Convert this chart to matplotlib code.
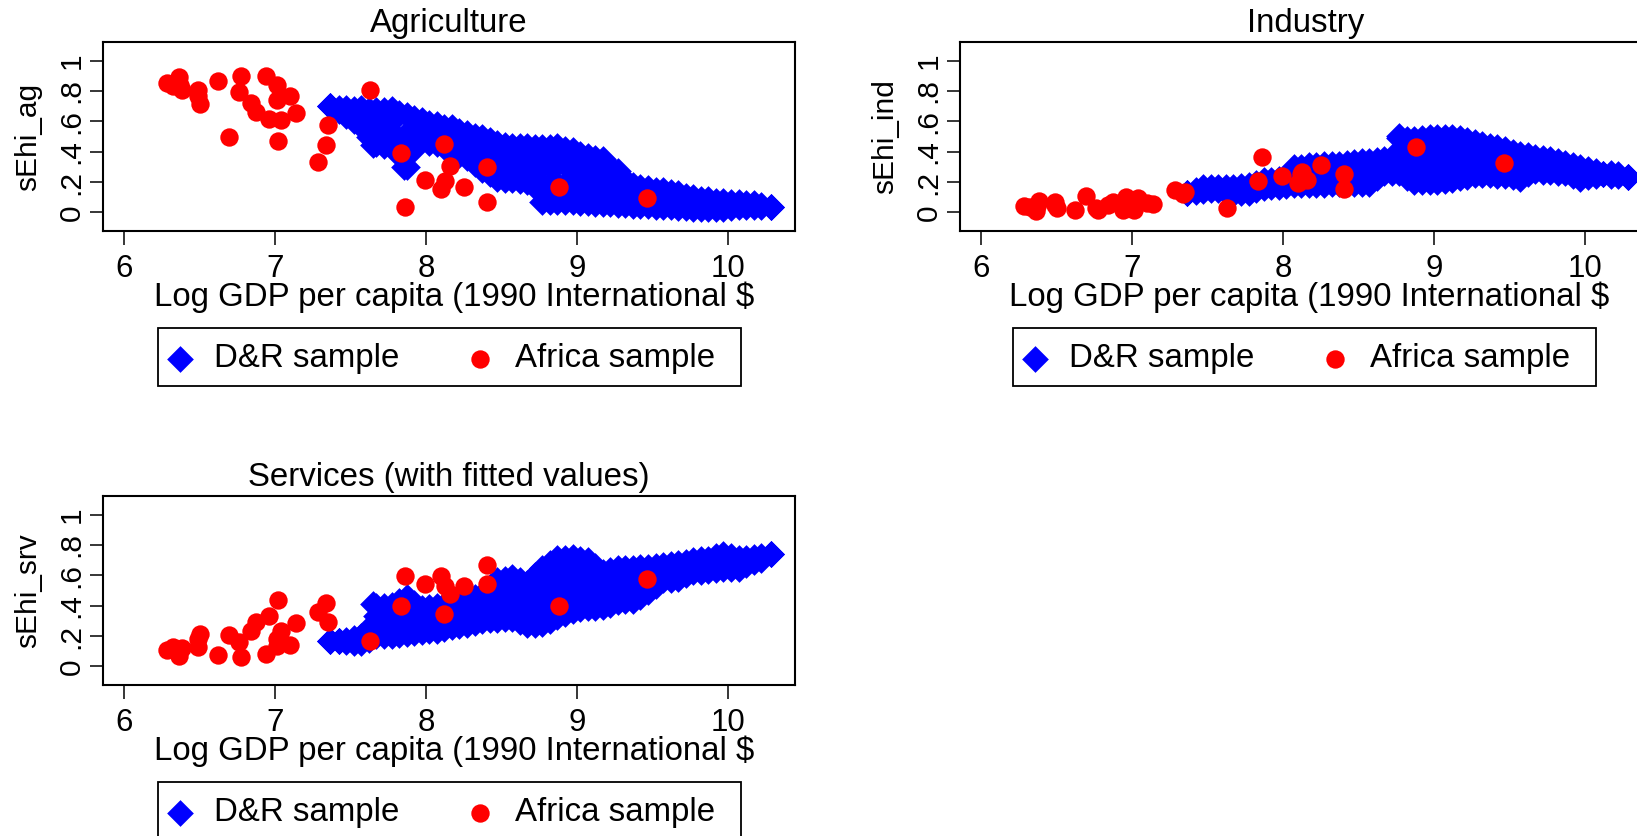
import matplotlib
matplotlib.use("Agg")
import matplotlib.pyplot as plt
from matplotlib.patches import Rectangle

plt.rcParams['font.family'] = ['Liberation Sans', 'DejaVu Sans']

# Africa sample
afr_x = [6.284,6.319,6.36,6.37,6.38,6.49,6.49,6.50,6.62,6.69,6.76,6.77,6.84,6.87,6.94,6.96,7.01,7.01,7.016,7.04,7.10,7.137,7.28,7.335,7.35,7.625,7.83,7.86,7.99,8.10,8.115,8.125,8.155,8.25,8.405,8.405,8.877,9.466]
afr_ag = [.852,.835,.892,.841,.804,.804,.764,.716,.863,.496,.791,.901,.72,.659,.901,.615,.841,.742,.469,.61,.769,.654,.335,.445,.573,.808,.388,.037,.214,.152,.452,.207,.306,.165,.30,.07,.165,.097]
afr_ind = [.042,.035,.009,.04,.073,.068,.05,.03,.018,.108,.03,.018,.046,.068,.013,.10,.08,.013,.06,.097,.062,.053,.146,.124,.135,.031,.205,.362,.241,.194,.256,.267,.216,.313,.256,.152,.433,.327]
afr_srv = [.108,.13,.068,.108,.123,.13,.178,.21,.073,.207,.163,.064,.233,.292,.079,.332,.134,.182,.435,.233,.138,.286,.36,.42,.292,.167,.398,.596,.541,.596,.347,.53,.475,.527,.668,.545,.398,.576]

# D&R sample: the points overlap into a solid band, rows estimated from the band
dr_xa = [7.365,7.47,7.57,7.67,7.77,7.87,7.97,8.07,8.17,8.27,8.37,8.47,8.57,8.67,8.77,8.87,8.97,9.07,9.17,9.27,9.37,9.47,9.57,9.67,9.77,9.87,9.97,10.07,10.17,10.285]
dr_xb = [7.42,7.52,7.62,7.72,7.82,7.92,8.02,8.12,8.22,8.32,8.42,8.52,8.62,8.72,8.82,8.92,9.02,9.12,9.22,9.32,9.42,9.52,9.62,9.72,9.82,9.92,10.02,10.12,10.22]

ag_r1 = [.70,.685,.685,.675,.68,.64,.61,.58,.56,.52,.50,.46,.44,.44,.43,.44,.41,.37,.35,.27,.18,.16,.145,.13,.10,.085,.075,.07,.06,.033]
ag_r2 = [.69,.68,.675,.675,.655,.62,.59,.565,.535,.505,.475,.445,.435,.43,.43,.42,.385,.355,.30,.215,.165,.15,.135,.11,.09,.078,.07,.062,.05]
ag_r3 = [.70,.67,.645,.60,.60,.52,.567,.537,.508,.467,.427,.373,.363,.36,.31,.317,.295,.267,.252,.197,.135,.12,.108,.097,.075,.063,.057,.058,.052,.033]
ag_r4 = [.673,.627,.558,.525,.472,.487,.503,.475,.432,.382,.325,.292,.282,.257,.19,.185,.17,.157,.135,.104,.083,.075,.066,.055,.045,.039,.042,.044,.04]
ag_r5 = [.70,.635,.57,.45,.45,.30,.48,.45,.405,.36,.28,.22,.21,.20,.07,.07,.065,.06,.055,.05,.045,.04,.035,.03,.025,.02,.02,.035,.035,.033]
ag_r6 = [.665,.60,.50,.45,.38,.42,.46,.43,.38,.32,.25,.215,.205,.17,.07,.068,.062,.058,.052,.048,.042,.038,.032,.028,.022,.02,.028,.035,.035]
ag_extra_x = [7.645,7.85,7.77,7.87,7.97,8.07,8.77,8.87,8.97,9.07,8.82,8.92,9.02,9.12,8.72,8.62,8.52,7.82,7.90,7.87,7.72]
ag_extra_y = [.445,.30,.53,.43,.52,.50,.19,.19,.18,.165,.31,.31,.28,.26,.34,.34,.34,.42,.42,.38,.44]

ind_r1 = [.125,.165,.165,.17,.18,.21,.22,.30,.31,.32,.32,.335,.34,.35,.49,.485,.50,.50,.49,.463,.44,.42,.386,.368,.353,.326,.298,.27,.242,.235]
ind_r2 = [.15,.165,.165,.175,.195,.215,.23,.30,.315,.32,.328,.338,.345,.35,.485,.49,.50,.495,.475,.45,.43,.40,.375,.36,.34,.31,.285,.255,.24]
ind_r3 = [.125,.157,.16,.153,.162,.193,.203,.26,.267,.273,.277,.287,.29,.32,.413,.389,.40,.402,.402,.39,.374,.359,.331,.337,.323,.304,.272,.26,.248,.235]
ind_r4 = [.14,.154,.145,.142,.162,.182,.193,.22,.225,.23,.236,.239,.265,.29,.312,.295,.301,.308,.315,.312,.303,.287,.292,.299,.288,.263,.248,.252,.247]
ind_r5 = [.125,.14,.15,.12,.126,.16,.17,.18,.18,.18,.19,.19,.19,.26,.26,.197,.20,.205,.226,.243,.243,.237,.22,.274,.263,.26,.22,.24,.26,.235]
ind_r6 = [.135,.148,.135,.125,.145,.165,.175,.18,.18,.185,.19,.19,.225,.26,.225,.198,.202,.215,.235,.243,.24,.23,.25,.268,.262,.24,.23,.25,.25]
ind_extra_x = [8.77]
ind_extra_y = [.503]

srv_r1 = [.167,.175,.197,.395,.405,.46,.384,.395,.417,.44,.47,.57,.586,.55,.647,.713,.72,.70,.625,.647,.647,.658,.665,.68,.70,.709,.74,.713,.72,.74]
srv_r2 = [.17,.185,.25,.40,.43,.42,.39,.405,.43,.455,.52,.578,.57,.60,.68,.717,.71,.66,.635,.647,.652,.66,.672,.69,.705,.725,.725,.715,.73]
srv_r3 = [.167,.17,.182,.331,.338,.378,.331,.342,.364,.383,.413,.482,.495,.457,.525,.583,.603,.595,.547,.572,.576,.602,.632,.646,.673,.683,.708,.69,.709,.74]
srv_r4 = [.167,.165,.19,.269,.282,.287,.283,.30,.319,.342,.375,.399,.383,.383,.427,.47,.487,.477,.483,.501,.524,.571,.604,.63,.652,.666,.67,.682,.71]
srv_r5 = [.167,.16,.153,.203,.203,.214,.225,.236,.258,.27,.30,.306,.313,.27,.28,.324,.368,.383,.39,.423,.434,.489,.566,.577,.62,.63,.643,.643,.687,.74]
srv_r6 = [.165,.155,.175,.203,.208,.22,.23,.247,.264,.285,.303,.31,.29,.275,.30,.346,.375,.386,.406,.428,.46,.527,.57,.60,.625,.636,.643,.665,.70]
srv_extra_x = [7.645,8.77,8.87,8.97,8.82,8.92,9.02,8.87,8.97,9.07,9.12,9.22,8.72,8.62,8.52,8.42]
srv_extra_y = [.41,.40,.45,.49,.56,.60,.60,.65,.66,.62,.55,.56,.48,.47,.47,.44]

x_ticks = [6, 7, 8, 9, 10]
y_ticks = [0, .2, .4, .6, .8, 1]
y_tick_labels = ['0', '.2', '.4', '.6', '.8', '1']
x_label = 'Log GDP per capita (1990 International $'
legend_labels = ['D&R sample', 'Africa sample']

W, H = 1637, 836
BLUE, RED = '#0000ff', '#ff0000'
FS = 23.8
FS_Y = 21.5
AXW, AXH = 692, 189
MS = 185

fig = plt.figure(figsize=(W / 100, H / 100), dpi=100, facecolor='white')


def panel(left, top, title, ylabel, rows, extra_x, extra_y, afr_y, box_shift=0):
    ax = fig.add_axes([left / W, 1 - (top + AXH) / H, AXW / W, AXH / H])
    ax.set_xlim(5.858, 10.444)
    ax.set_ylim(-0.123, 1.123)
    first = None
    for i, row in enumerate(rows):
        xs = dr_xa if i % 2 == 0 else dr_xb
        sc = ax.scatter(xs, row, marker='D', s=MS, color=BLUE, linewidths=0, zorder=2)
        first = first or sc
    ax.scatter(extra_x, extra_y, marker='D', s=MS, color=BLUE, linewidths=0, zorder=2)
    red = ax.scatter(afr_x, afr_y, marker='o', s=175, color=RED, linewidths=0, zorder=3)
    for sp in ax.spines.values():
        sp.set_linewidth(1.5)
    ax.set_xticks(x_ticks)
    ax.set_yticks(y_ticks)
    ax.set_yticklabels(y_tick_labels, rotation=90, va='center')
    ax.tick_params(axis='x', length=10, width=1.1, labelsize=22.5, pad=6.5)
    ax.tick_params(axis='y', length=9.5, width=1.1, labelsize=21.5, pad=3)
    ax.set_title(title, fontsize=FS, pad=7)
    ax.set_xlabel(x_label, fontsize=FS, va='center')
    ax.xaxis.set_label_coords(0.5 + (5.5 + box_shift) / AXW, -66 / AXH)
    ax.set_ylabel(ylabel, fontsize=FS_Y, va='center')
    ax.yaxis.set_label_coords(-75 / AXW, 0.5)
    # legend box and contents, placed relative to the panel
    bx, by, bw, bh = left + 55 + box_shift, top + 286, 583, 58
    fig.add_artist(Rectangle((bx / W, 1 - (by + bh) / H), bw / W, bh / H,
                             transform=fig.transFigure, facecolor='white',
                             edgecolor='black', linewidth=1.3))
    fig.legend([first, red], legend_labels, ncol=2, fontsize=FS,
               loc='center left', bbox_to_anchor=((bx + 13) / W, 1 - (by + bh / 2 + 2) / H),
               frameon=False, handletextpad=0.775, columnspacing=2.175,
               borderpad=0, borderaxespad=0, handlelength=0.53, scatterpoints=1)
    return ax


panel(103, 42, 'Agriculture', 'sEhi_ag',
      [ag_r1, ag_r2, ag_r3, ag_r4, ag_r5, ag_r6], ag_extra_x, ag_extra_y, afr_ag)
panel(960, 42, 'Industry', 'sEhi_ind',
      [ind_r1, ind_r2, ind_r3, ind_r4, ind_r5, ind_r6], ind_extra_x, ind_extra_y, afr_ind, box_shift=-2)
panel(103, 496, 'Services (with fitted values)', 'sEhi_srv',
      [srv_r1, srv_r2, srv_r3, srv_r4, srv_r5, srv_r6], srv_extra_x, srv_extra_y, afr_srv)

fig.savefig('out.png', dpi=100)
